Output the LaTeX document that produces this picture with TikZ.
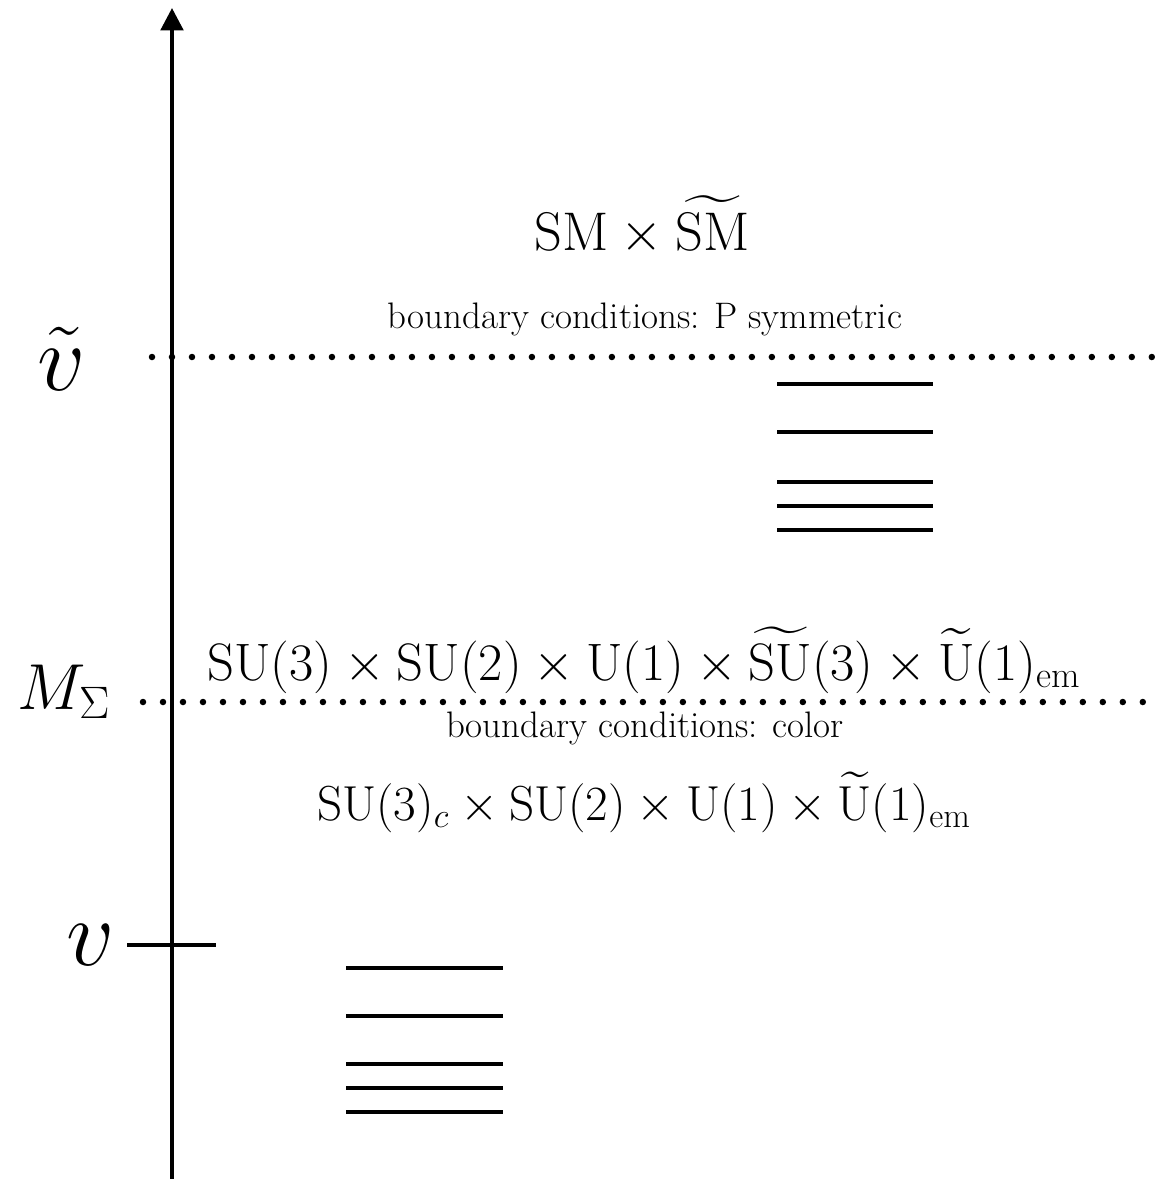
\RequirePackage{fix-cm}
\documentclass[tikz,border=0pt]{standalone}
\usepackage{amsmath,amssymb}
\usetikzlibrary{arrows.meta,positioning}

\begin{document}
\begin{tikzpicture}[
    x=0.02cm, y=-0.02cm,
    axis/.style={line width=0.08cm,-{Triangle[length=0.45cm,width=0.45cm]}},
    level/.style={line width=0.08cm},
    dotline/.style={line width=0.13cm,line cap=round,dash pattern=on 0pt off 0.4cm},
    big/.style={font=\fontsize{30}{36}\selectfont,anchor=base,inner sep=0pt},
    scale label/.style={font=\fontsize{54}{60}\selectfont,anchor=base,inner sep=0pt},
    small/.style={font=\fontsize{21}{25}\selectfont,anchor=base,inner sep=0pt}
]
\useasboundingbox (0,0) rectangle (1154,1179);

% energy axis
\coordinate (bot) at (172,1179);
\coordinate (top) at (172,8);
\draw[axis] (bot) -- (top);

% scale labels
\node[scale label] (vtilde) at (62,390) {$\tilde{v}$};
\node[scale label,font=\fontsize{37}{42}\selectfont] (msigma) at (64,709) {$M_\Sigma$};
\node[scale label] (vev) at (91,965) {$v$};

% thresholds
\coordinate (d1a) at (152,357);
\coordinate (d1b) at (1160,357);
\coordinate (d2a) at (143,702);
\coordinate (d2b) at (1160,702);
\draw[dotline] (d1a) -- (d1b);
\draw[dotline] (d2a) -- (d2b);
\coordinate (ticka) at (127,945);
\coordinate (tickb) at (216,945);
\draw[level] (ticka) -- (tickb);

% groups
\node[big,font=\fontsize{31}{37}\selectfont] (smsm) at (642,250) {$\mathrm{SM}\times\widetilde{\mathrm{SM}}$};
\node[small] (bcP) at (645,328) {boundary conditions: P symmetric};
\node[big] (gfull) at (644,680) {$\mathrm{SU}(3)\times\mathrm{SU}(2)\times\mathrm{U}(1)\times\widetilde{\mathrm{SU}}(3)\times\widetilde{\mathrm{U}}(1)_{\mathrm{em}}$};
\node[small] (bcc) at (645,737) {boundary conditions: color};
\node[big,font=\fontsize{28}{34}\selectfont] (glow) at (644,820) {$\mathrm{SU}(3)_c\times\mathrm{SU}(2)\times\mathrm{U}(1)\times\widetilde{\mathrm{U}}(1)_{\mathrm{em}}$};

% spectra
\foreach \y in {384,432,482,506,530}
    \draw[level] (777,\y) -- (933,\y);
\foreach \y in {968,1016,1064,1088,1112}
    \draw[level] (346,\y) -- (503,\y);
\end{tikzpicture}
\end{document}
